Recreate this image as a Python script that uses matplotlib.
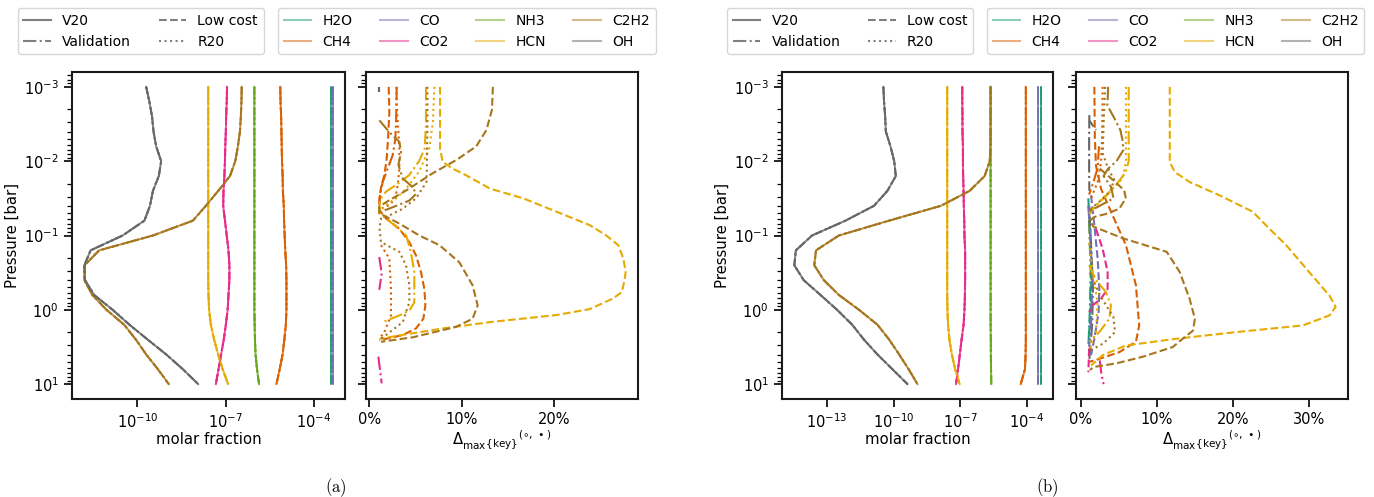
import numpy as np
import matplotlib
matplotlib.use("Agg")
import matplotlib.pyplot as plt
from matplotlib.lines import Line2D
from matplotlib.ticker import PercentFormatter, MultipleLocator, NullLocator

# ---------------- data ----------------
species = ["H2O", "CH4", "CO", "CO2", "NH3", "HCN", "C2H2", "OH"]
colors = ["#1b9e77", "#d95f02", "#7570b3", "#e7298a", "#66a61e", "#e6ab02", "#a6761d", "#666666"]
methods = ["V20", "Validation", "Low cost", "R20"]
styles = ["-", "-.", "--", ":"]

# pressure levels (log10 bar)
logp = [-3.0, -2.8, -2.6, -2.4, -2.2, -2.0, -1.8, -1.6, -1.4, -1.2, -1.0,
        -0.8, -0.6, -0.4, -0.2, 0.0, 0.2, 0.4, 0.6, 0.8, 1.0]

# panel (a): log10 molar fraction
a_H2O = [-3.42, -3.42, -3.42, -3.42, -3.42, -3.42, -3.42, -3.42, -3.42, -3.42, -3.42,
         -3.42, -3.42, -3.42, -3.42, -3.42, -3.42, -3.42, -3.42, -3.42, -3.42]
a_CH4 = [-5.14, -5.13, -5.11, -5.10, -5.09, -5.08, -5.06, -5.05, -5.02, -5.01, -4.99,
         -4.97, -4.94, -4.93, -4.93, -4.93, -4.95, -5.00, -5.06, -5.16, -5.27]
a_CO = [-3.36, -3.36, -3.36, -3.36, -3.36, -3.36, -3.36, -3.36, -3.36, -3.36, -3.36,
        -3.36, -3.36, -3.36, -3.36, -3.36, -3.36, -3.36, -3.36, -3.36, -3.36]
a_CO2 = [-6.95, -6.96, -6.98, -6.99, -7.01, -7.02, -7.04, -7.07, -7.08, -7.02, -6.96,
         -6.90, -6.87, -6.87, -6.90, -6.93, -6.99, -7.06, -7.15, -7.24, -7.33]
a_NH3 = [-6.02, -6.02, -6.02, -6.02, -6.02, -6.02, -6.02, -6.02, -6.02, -6.02, -6.02,
         -6.02, -6.02, -6.02, -6.02, -6.02, -6.01, -6.00, -5.98, -5.93, -5.86]
a_HCN = [-7.59, -7.59, -7.59, -7.59, -7.59, -7.59, -7.59, -7.59, -7.59, -7.59, -7.59,
         -7.59, -7.59, -7.59, -7.58, -7.56, -7.50, -7.39, -7.25, -7.10, -6.91]
a_C2H2 = [-6.45, -6.46, -6.48, -6.51, -6.58, -6.67, -6.85, -7.25, -7.67, -8.11, -9.47,
          -11.30, -11.79, -11.80, -11.53, -11.05, -10.45, -10.05, -9.70, -9.30, -8.93]
a_OH = [-9.70, -9.59, -9.50, -9.45, -9.36, -9.19, -9.27, -9.47, -9.57, -9.76, -10.50,
        -11.59, -11.80, -11.78, -11.47, -10.84, -10.27, -9.65, -9.02, -8.45, -7.93]

# panel (b): log10 molar fraction
b_H2O = [-3.36, -3.36, -3.36, -3.36, -3.36, -3.36, -3.36, -3.36, -3.36, -3.36, -3.36,
         -3.36, -3.36, -3.36, -3.36, -3.36, -3.36, -3.36, -3.36, -3.36, -3.36]
b_CH4 = [-4.03, -4.03, -4.03, -4.03, -4.03, -4.03, -4.03, -4.03, -4.03, -4.03, -4.03,
         -4.03, -4.03, -4.03, -4.03, -4.03, -4.03, -4.03, -4.04, -4.07, -4.26]
b_CO = [-3.47, -3.47, -3.47, -3.47, -3.47, -3.47, -3.47, -3.47, -3.47, -3.47, -3.47,
        -3.47, -3.47, -3.47, -3.47, -3.47, -3.47, -3.47, -3.47, -3.47, -3.47]
b_CO2 = [-6.90, -6.90, -6.89, -6.89, -6.87, -6.87, -6.86, -6.84, -6.83, -6.81, -6.80,
         -6.77, -6.77, -6.77, -6.78, -6.80, -6.84, -6.93, -7.01, -7.09, -7.18]
b_NH3 = [-5.62, -5.62, -5.62, -5.62, -5.62, -5.62, -5.62, -5.62, -5.62, -5.62, -5.62,
         -5.62, -5.62, -5.62, -5.62, -5.62, -5.62, -5.61, -5.61, -5.60, -5.59]
b_HCN = [-7.58, -7.58, -7.58, -7.58, -7.58, -7.58, -7.58, -7.58, -7.58, -7.58, -7.58,
         -7.58, -7.58, -7.58, -7.58, -7.57, -7.54, -7.48, -7.37, -7.22, -7.02]
b_C2H2 = [-5.62, -5.62, -5.62, -5.62, -5.63, -5.66, -5.89, -6.57, -7.86, -10.20, -12.47,
          -13.50, -13.58, -13.15, -12.47, -11.56, -10.73, -10.20, -9.75, -9.32, -8.92]
b_OH = [-10.46, -10.43, -10.38, -10.35, -10.14, -9.97, -9.90, -10.28, -10.88, -12.17, -13.68,
        -14.41, -14.48, -14.06, -13.30, -12.55, -11.87, -11.34, -10.73, -10.05, -9.37]

# relative differences (percent): log10 p levels and values for each curve
# panel (a)
a_HCN_low_p = [-3.0, -2.17, -1.99, -1.90, -1.81, -1.63, -1.50, -1.32, -1.14, -1.00, -0.87, -0.69,
               -0.51, -0.42, -0.24, -0.15, -0.01, 0.07, 0.165, 0.25, 0.33, 0.39]
a_HCN_low_d = [7.67, 7.67, 7.96, 9.04, 10.5, 13.1, 16.7, 20.3, 23.9, 25.7, 27.0, 27.55,
               27.8, 27.7, 27.4, 26.4, 23.9, 20.3, 13.1, 8.0, 4.0, 1.1]
a_HCN_val_p = [-3.0, -2.5, -2.17, -2.0, -1.81, -1.68, -1.59, -1.50, -1.41, -1.30, -1.15,
               -1.0, -0.78, -0.51, -0.10, 0.01, 0.075, 0.165]
a_HCN_val_d = [6.15, 6.15, 6.0, 5.4, 4.3, 2.9, 1.8, 1.27, 1.1, 1.1, 2.6,
               4.0, 4.5, 4.88, 4.88, 4.34, 3.26, 1.45]
a_HCN_r20_p = [-3.0, -2.53, -2.17, -1.86, -1.63, -1.50, -1.41, -1.34]
a_HCN_r20_d = [7.05, 6.9, 6.5, 5.4, 4.0, 2.9, 1.8, 1.27]
a_C2H2_low_p = [-3.0, -2.69, -2.42, -2.20, -2.02, -1.84, -1.61, -1.48, -1.39, -1.30, -1.16, -1.0,
                -0.87, -0.64, -0.33, -0.06, 0.12, 0.23, 0.37, 0.43]
a_C2H2_low_d = [13.4, 13.3, 12.7, 11.6, 9.5, 6.9, 4.05, 2.24, 1.08, 1.08, 3.26, 5.43,
                7.6, 9.76, 11.2, 11.75, 11.2, 9.4, 4.7, 1.27]
a_C2H2_val_p = [-2.55, -2.39, -2.26, -2.12, -1.95, -1.77, -1.65, -1.56, -1.47, -1.38, -1.32]
a_C2H2_val_d = [1.09, 2.17, 3.26, 3.44, 3.15, 3.62, 4.7, 5.07, 4.34, 2.53, 1.27]
a_C2H2_r20_p = [-3.0, -2.5, -2.0, -1.72, -1.50, -1.36, -1.27, -1.23, -1.1, -0.91, -0.78, -0.60,
                -0.33, -0.10, 0.165, 0.34, 0.41]
a_C2H2_r20_d = [6.3, 6.3, 6.25, 6.2, 5.07, 3.62, 2.17, 1.27, 1.1, 1.27, 3.26, 3.98,
                4.34, 4.34, 3.62, 1.81, 1.09]
a_CH4_low_p = [-3.0, -2.66, -2.30, -2.03, -1.81, -1.65, -1.50, -1.34, -1.23, -1.09, -0.91, -0.73,
               -0.51, -0.28, -0.06, 0.12, 0.25, 0.34, 0.39, 0.41]
a_CH4_low_d = [2.1, 2.17, 2.03, 1.88, 1.63, 1.27, 1.09, 1.09, 1.81, 3.26, 4.34, 5.07,
               5.6, 5.97, 6.08, 5.86, 5.07, 3.62, 1.81, 1.09]
a_CH4_val_p = [-3.0, -2.53, -2.30, -2.08, -1.90, -1.72, -1.54, -1.41]
a_CH4_val_d = [2.97, 2.9, 2.82, 2.53, 1.99, 1.45, 1.16, 1.09]
a_CH4_r20_p = [-3.0, -2.75, -2.17, -1.90, -1.68, -1.50, -1.41, -1.36, np.nan,
               -0.87, -0.69, -0.28, 0.075, 0.30, 0.39]
a_CH4_r20_d = [2.95, 2.97, 3.26, 3.26, 3.08, 2.82, 2.17, 1.27, np.nan,
               1.27, 2.17, 2.35, 2.35, 1.63, 1.09]
a_CO2_val_p = [-0.71, -0.49, -0.27, np.nan, 0.63, 0.99]
a_CO2_val_d = [1.08, 1.34, 1.08, np.nan, 0.98, 1.34]
a_OH_val_p = [-3.0, -2.93]
a_OH_val_d = [1.1, 1.1]

# panel (b)
b_HCN_low_p = [-3.0, -1.99, -1.855, -1.72, -1.54, -1.32, -1.09, -0.87, -0.51, -0.19, -0.04, 0.075,
               0.21, 0.30, 0.39, 0.48, 0.61, 0.75]
b_HCN_low_d = [11.7, 11.7, 12.35, 14.3, 18.25, 22.6, 24.8, 27.0, 30.0, 32.7, 33.5, 32.7,
               29.2, 20.4, 12.5, 5.93, 2.88, 1.35]
b_HCN_val_p = [-3.0, -2.0, -1.85, -1.70, -1.55, -1.40, -1.30, np.nan,
               -0.6, -0.4, -0.24, -0.06, 0.12, 0.30, 0.43]
b_HCN_val_d = [6.3, 6.3, 5.9, 4.8, 3.5, 2.0, 1.1, np.nan,
               1.1, 2.0, 3.3, 3.97, 3.75, 2.44, 1.13]
b_HCN_r20_p = [-3.0, -2.0, -1.77, -1.63, -1.50, -1.36, -1.27, np.nan, -0.9, -0.5, -0.1, 0.3, 0.55]
b_HCN_r20_d = [5.94, 5.94, 5.5, 4.19, 2.88, 1.57, 1.13, np.nan, 1.1, 1.6, 2.2, 2.0, 1.1]
b_C2H2_low_p = [-1.9, -1.75, -1.61, -1.50, -1.36, -1.29, -1.25, -1.2, -1.12, -0.96,
                -0.78, -0.51, -0.15, 0.12, 0.28, 0.39, 0.50, 0.63, 0.72, 0.77, 0.81]
b_C2H2_low_d = [2.5, 4.2, 5.7, 5.93, 5.06, 3.31, 1.79, 1.2, 1.66, 5.6,
                11.3, 13.0, 14.3, 15.0, 14.75, 13.4, 12.1, 8.2, 4.7, 1.66, 1.2]
b_C2H2_val_p = [-3.0, -2.75, -2.6, -2.42, -2.28, -2.15, -2.0, -1.9, -1.8, -1.65, -1.5, -1.4, -1.33]
b_C2H2_val_d = [3.6, 3.5, 4.3, 5.2, 5.5, 5.6, 4.7, 3.6, 3.0, 4.0, 4.3, 2.5, 1.2]
b_C2H2_r20_p = [-3.0, -2.5, -2.1, -1.9, -1.75, -1.6, -1.45, -1.35, np.nan,
                -0.5, -0.2, 0.1, 0.3, 0.45, 0.55]
b_C2H2_r20_d = [3.2, 3.0, 2.9, 3.6, 4.4, 3.9, 2.4, 1.2, np.nan,
                1.2, 2.5, 4.3, 4.5, 3.0, 1.2]
b_CH4_low_p = [-3.0, -2.3, -1.94, -1.63, -1.27, -0.87, -0.33, 0.21, 0.43, 0.57, 0.66, 0.70]
b_CH4_low_d = [1.79, 1.85, 2.0, 2.66, 4.19, 5.94, 7.25, 7.68, 7.25, 5.06, 2.44, 1.13]
b_CH4_val_p = [-2.2, -1.9, -1.7, -1.55]
b_CH4_val_d = [2.4, 2.2, 1.6, 1.1]
b_CH4_r20_p = [-3.0, -2.3, -1.99, -1.72, -1.50]
b_CH4_r20_d = [2.88, 2.8, 2.66, 2.22, 1.35]
b_CO_low_p = [-1.54, -1.14, -0.69, -0.28, 0.03, 0.39, 0.61]
b_CO_low_d = [1.35, 1.79, 2.22, 2.44, 2.35, 1.79, 1.35]
b_CO_val_p = [-1.4, -0.9, -0.4, 0.1, 0.5]
b_CO_val_d = [1.0, 1.3, 1.5, 1.4, 1.1]
b_CO2_low_p = [-1.09, -0.82, -0.51, -0.28, -0.15, -0.06, 0.03, np.nan, 0.52, 0.84]
b_CO2_low_d = [2.0, 2.88, 3.53, 3.53, 2.66, 1.57, 1.13, np.nan, 1.1, 1.0]
b_CO2_val_p = [0.68, 0.85, 1.0]
b_CO2_val_d = [2.5, 2.7, 3.0]
b_H2O_low_p = [-1.4, -1.0, -0.5, 0.0, 0.3]
b_H2O_low_d = [1.1, 1.3, 1.4, 1.3, 1.1]
b_H2O_val_p = [-1.5, -1.0, -0.5, 0.0, 0.5]
b_H2O_val_d = [1.0, 1.2, 1.3, 1.2, 1.0]
b_NH3_val_p = [-1.2, -0.8]
b_NH3_val_d = [1.1, 1.2]
b_OH_val_p = [-2.62, -2.3, -1.9, -1.6, np.nan, -1.3, -0.8, -0.3, 0.2, 0.7]
b_OH_val_d = [1.13, 1.1, 1.1, 1.13, np.nan, 1.1, 1.4, 1.6, 1.5, 1.1]
b_OH_low_p = [-2.55, -2.42]
b_OH_low_d = [1.1, 2.0]

xticks_a = [1e-10, 1e-7, 1e-4]
xticks_b = [1e-13, 1e-10, 1e-7, 1e-4]

# ---------------- figure ----------------
W, H = 1374, 497
fig = plt.figure(figsize=(W / 100, H / 100), dpi=100)
plt.rcParams["font.family"] = ["DejaVu Sans"]

def frac_axes(x0, x1, y0, y1, **kw):
    return fig.add_axes([x0 / W, 1 - y1 / H, (x1 - x0) / W, (y1 - y0) / H], **kw)

axL_a = frac_axes(72, 345, 72, 399)
axR_a = frac_axes(366, 638, 72, 399, sharey=axL_a)
axL_b = frac_axes(782, 1053, 72, 399)
axR_b = frac_axes(1076, 1348, 72, 399, sharey=axL_b)

P = 10 ** np.array(logp)
profiles_a = [a_H2O, a_CH4, a_CO, a_CO2, a_NH3, a_HCN, a_C2H2, a_OH]
profiles_b = [b_H2O, b_CH4, b_CO, b_CO2, b_NH3, b_HCN, b_C2H2, b_OH]

for ax, profs in ((axL_a, profiles_a), (axL_b, profiles_b)):
    for ls in styles:
        for sp, col, prof in zip(species, colors, profs):
            ax.plot(10 ** np.array(prof), P, color=col, ls=ls, lw=1.4, alpha=0.8)

cidx = {s: i for i, s in enumerate(species)}
sty = {"val": "-.", "low": "--", "r20": ":"}
curves_a = [
    ("OH", "val", a_OH_val_p, a_OH_val_d),
    ("CO2", "val", a_CO2_val_p, a_CO2_val_d),
    ("CH4", "low", a_CH4_low_p, a_CH4_low_d),
    ("CH4", "val", a_CH4_val_p, a_CH4_val_d),
    ("CH4", "r20", a_CH4_r20_p, a_CH4_r20_d),
    ("HCN", "val", a_HCN_val_p, a_HCN_val_d),
    ("HCN", "r20", a_HCN_r20_p, a_HCN_r20_d),
    ("HCN", "low", a_HCN_low_p, a_HCN_low_d),
    ("C2H2", "val", a_C2H2_val_p, a_C2H2_val_d),
    ("C2H2", "r20", a_C2H2_r20_p, a_C2H2_r20_d),
    ("C2H2", "low", a_C2H2_low_p, a_C2H2_low_d),
]
curves_b = [
    ("H2O", "low", b_H2O_low_p, b_H2O_low_d),
    ("H2O", "val", b_H2O_val_p, b_H2O_val_d),
    ("NH3", "val", b_NH3_val_p, b_NH3_val_d),
    ("OH", "val", b_OH_val_p, b_OH_val_d),
    ("OH", "low", b_OH_low_p, b_OH_low_d),
    ("CO", "low", b_CO_low_p, b_CO_low_d),
    ("CO", "val", b_CO_val_p, b_CO_val_d),
    ("CO2", "low", b_CO2_low_p, b_CO2_low_d),
    ("CO2", "val", b_CO2_val_p, b_CO2_val_d),
    ("CH4", "low", b_CH4_low_p, b_CH4_low_d),
    ("CH4", "val", b_CH4_val_p, b_CH4_val_d),
    ("CH4", "r20", b_CH4_r20_p, b_CH4_r20_d),
    ("HCN", "val", b_HCN_val_p, b_HCN_val_d),
    ("HCN", "r20", b_HCN_r20_p, b_HCN_r20_d),
    ("HCN", "low", b_HCN_low_p, b_HCN_low_d),
    ("C2H2", "val", b_C2H2_val_p, b_C2H2_val_d),
    ("C2H2", "r20", b_C2H2_r20_p, b_C2H2_r20_d),
    ("C2H2", "low", b_C2H2_low_p, b_C2H2_low_d),
]
for ax, curves in ((axR_a, curves_a), (axR_b, curves_b)):
    for sp, m, pp, dd in curves:
        ax.plot(np.array(dd), 10 ** np.array(pp), color=colors[cidx[sp]], ls=sty[m], lw=1.5)

for ax, xt in ((axL_a, xticks_a), (axL_b, xticks_b)):
    ax.set_xscale("log")
    ax.set_yscale("log")
    ax.set_xticks(xt)
    ax.xaxis.set_minor_locator(NullLocator())
    ax.set_xlabel("molar fraction", fontsize=10.7, labelpad=1)
    ax.set_ylabel("Pressure [bar]", fontsize=10.7, labelpad=3)
    ax.invert_yaxis()

xlab = r"$\Delta_{\max}^{\,}{}_{\{\mathrm{key}\}}{}^{(\circ,\,\bullet)}$"
for ax in (axR_a, axR_b):
    ax.xaxis.set_major_locator(MultipleLocator(10))
    ax.xaxis.set_major_formatter(PercentFormatter(xmax=100, decimals=0))
    ax.tick_params(axis="y", labelleft=False)
    ax.set_xlabel(xlab, fontsize=10.7, labelpad=1)

for ax in (axL_a, axR_a, axL_b, axR_b):
    for s in ax.spines.values():
        s.set_linewidth(1.5)
        s.set_color("#1a1a1a")
    ax.tick_params(which="major", length=6, width=1.2, labelsize=10.5, direction="out")
    ax.tick_params(which="minor", length=3.5, width=0.9, direction="out")

# legends
def style_handles():
    return [Line2D([], [], color="k", alpha=0.5, ls=ls, lw=1.5) for ls in styles]

def species_handles():
    return [Line2D([], [], color=c, alpha=0.5, lw=1.5) for c in colors]

legkw = dict(loc="upper left", fontsize=10, borderaxespad=0, frameon=True)
for x0, x1 in ((17.5, 278), (727, 987)):
    fig.legend(style_handles(), methods, ncol=2, bbox_to_anchor=(x0 / W, 1 - 8 / H), **legkw)
    fig.legend(species_handles(), species, ncol=4, bbox_to_anchor=(x1 / W, 1 - 8 / H), **legkw)

fig.text(336 / W, 1 - 488 / H, r"$\mathrm{(a)}$", math_fontfamily="cm", ha="center", va="center", fontsize=12)
fig.text(1047 / W, 1 - 488 / H, r"$\mathrm{(b)}$", math_fontfamily="cm", ha="center", va="center", fontsize=12)

fig.savefig("out.png", dpi=100, facecolor="white")
